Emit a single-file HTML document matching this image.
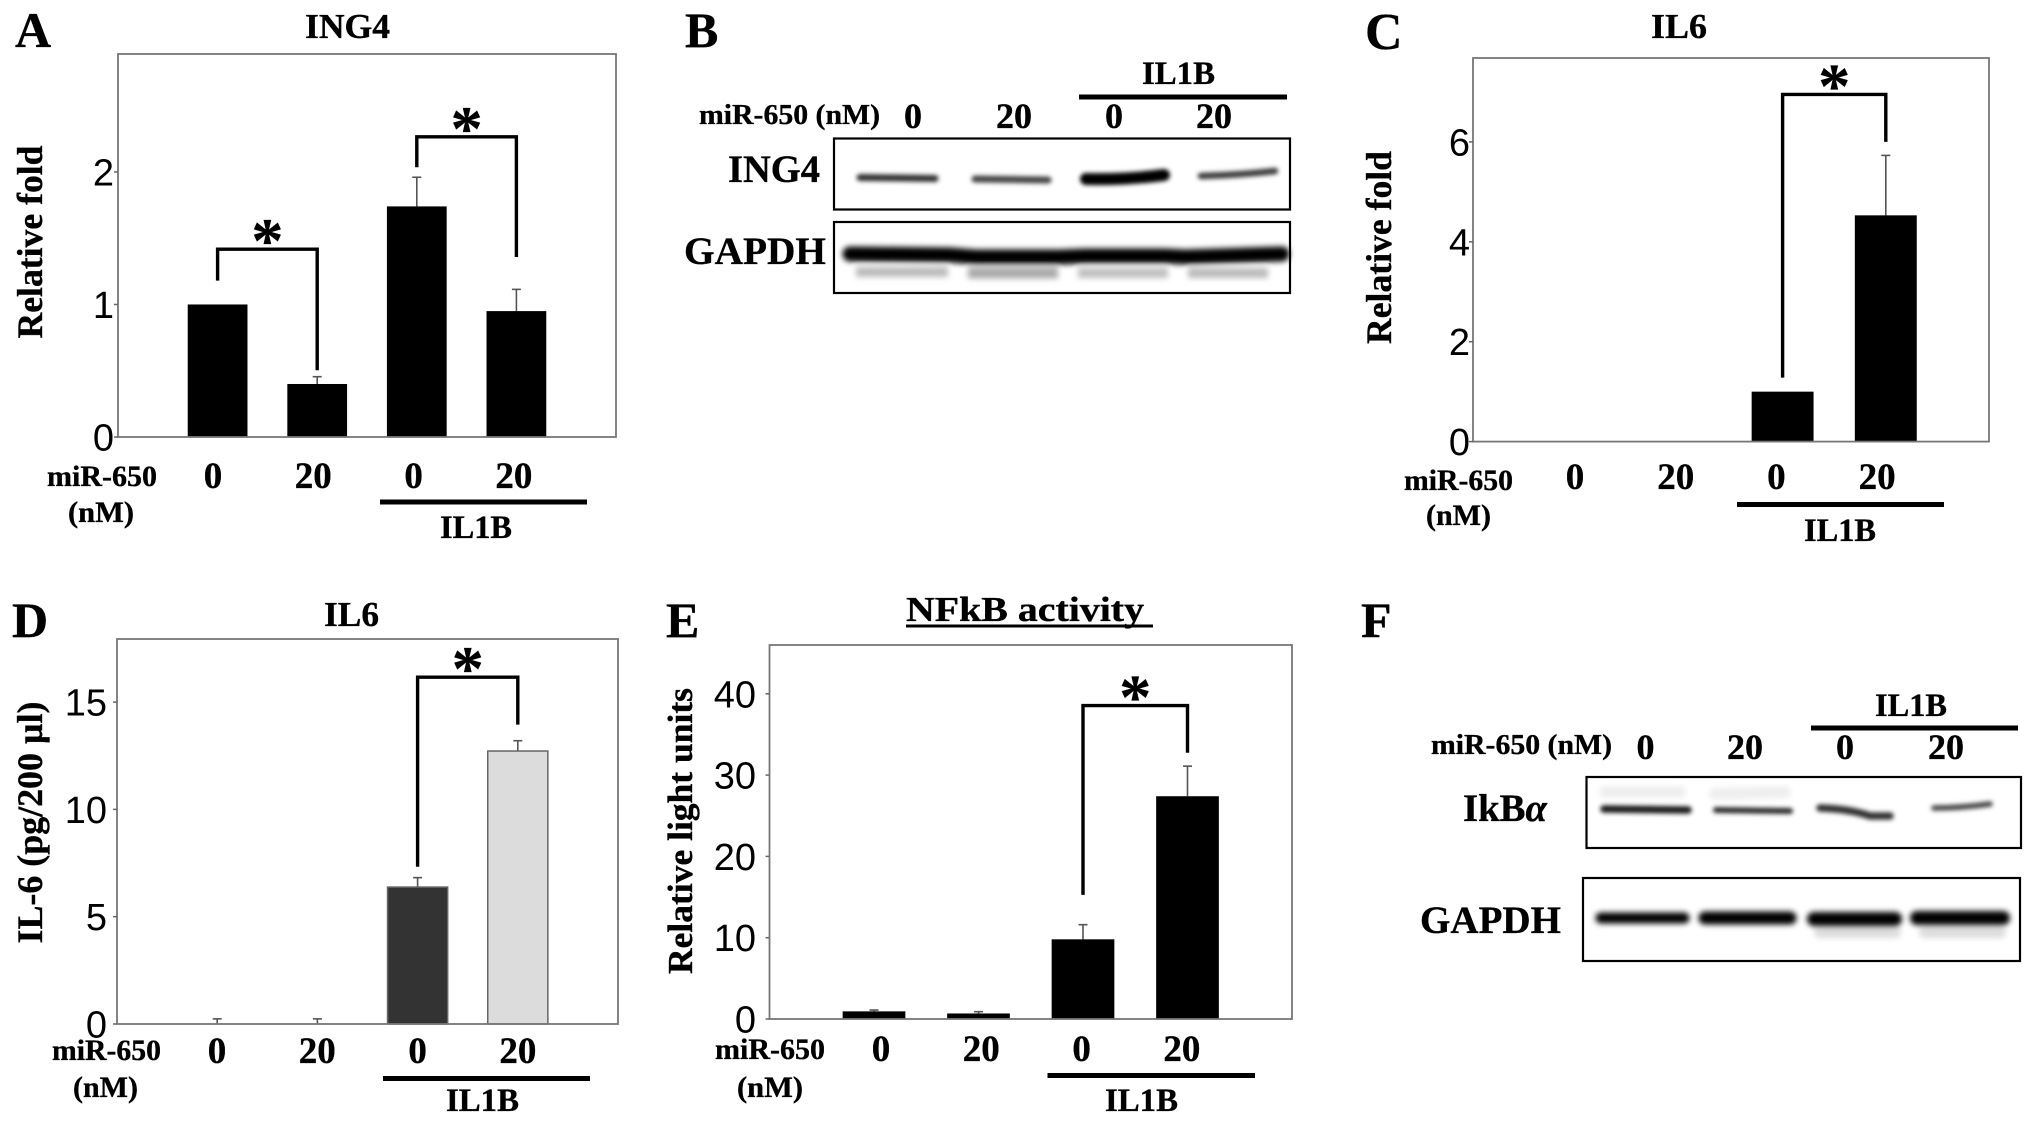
<!DOCTYPE html>
<html lang="en">
<head>
<meta charset="utf-8">
<title>miR-650 figure panels A-F</title>
<style>
html,body{margin:0;padding:0;background:#fff;}
svg{display:block;}
text{font-family:"Liberation Serif","Noto Serif CJK SC",serif;font-weight:bold;fill:#000;stroke:#000;stroke-width:0.35px;}
.num{font-family:"Liberation Sans",sans-serif;font-weight:normal;stroke:none;}
</style>
</head>
<body>
<svg id="figure" xmlns="http://www.w3.org/2000/svg" width="2031" height="1122" viewBox="0 0 2031 1122">
<defs>
<filter id="b3" filterUnits="userSpaceOnUse" x="0" y="0" width="2031" height="1122"><feGaussianBlur stdDeviation="3"/></filter>
<filter id="b2" filterUnits="userSpaceOnUse" x="0" y="0" width="2031" height="1122"><feGaussianBlur stdDeviation="2.2"/></filter>
</defs>
<rect width="2031" height="1122" fill="#fff"/>

<!-- Panel letters -->
<text x="15" y="47" font-size="50">A</text>
<text x="685" y="47" font-size="50">B</text>
<text x="1365" y="49" font-size="52">C</text>
<text x="12" y="637" font-size="50">D</text>
<text x="666" y="637" font-size="50">E</text>
<text x="1361" y="637" font-size="50">F</text>

<!-- Panel A labels -->
<text x="305" y="38" font-size="35" textLength="85" lengthAdjust="spacingAndGlyphs">ING4</text>
<text transform="translate(42,242) rotate(-90)" text-anchor="middle" font-size="36" textLength="193" lengthAdjust="spacingAndGlyphs">Relative fold</text>
<text x="47" y="486" font-size="30" textLength="110" lengthAdjust="spacingAndGlyphs">miR-650</text>
<text x="68" y="522" font-size="30" textLength="66" lengthAdjust="spacingAndGlyphs">(nM)</text>
<rect x="380" y="499.5" width="207" height="5"/>
<text x="440" y="538" font-size="33" textLength="72" lengthAdjust="spacingAndGlyphs">IL1B</text>

<!-- Panel C labels -->
<text x="1651" y="38" font-size="35" textLength="56" lengthAdjust="spacingAndGlyphs">IL6</text>
<text transform="translate(1391,247.5) rotate(-90)" text-anchor="middle" font-size="36" textLength="193" lengthAdjust="spacingAndGlyphs">Relative fold</text>
<text x="1404" y="490" font-size="30" textLength="109" lengthAdjust="spacingAndGlyphs">miR-650</text>
<text x="1426" y="525" font-size="30" textLength="65" lengthAdjust="spacingAndGlyphs">(nM)</text>
<rect x="1737" y="502" width="207" height="5"/>
<text x="1804" y="541" font-size="33" textLength="72" lengthAdjust="spacingAndGlyphs">IL1B</text>

<!-- Panel D labels -->
<text x="324" y="626" font-size="35" textLength="55" lengthAdjust="spacingAndGlyphs">IL6</text>
<text transform="translate(42,822.5) rotate(-90)" text-anchor="middle" font-size="36" textLength="242" lengthAdjust="spacingAndGlyphs">IL-6 (pg/200 µl)</text>
<text x="52" y="1060" font-size="30" textLength="109" lengthAdjust="spacingAndGlyphs">miR-650</text>
<text x="73" y="1097" font-size="30" textLength="65" lengthAdjust="spacingAndGlyphs">(nM)</text>
<rect x="383" y="1076" width="207" height="5"/>
<text x="446" y="1111" font-size="33" textLength="73" lengthAdjust="spacingAndGlyphs">IL1B</text>

<!-- Panel E labels -->
<text x="906" y="621" font-size="35" textLength="238" lengthAdjust="spacingAndGlyphs">NFkB activity</text>
<rect x="906" y="624.5" width="247" height="3"/>
<text transform="translate(692,831) rotate(-90)" text-anchor="middle" font-size="35" textLength="286" lengthAdjust="spacingAndGlyphs">Relative light units</text>
<text x="715" y="1059" font-size="30" textLength="110" lengthAdjust="spacingAndGlyphs">miR-650</text>
<text x="737" y="1097" font-size="30" textLength="66" lengthAdjust="spacingAndGlyphs">(nM)</text>
<rect x="1047.5" y="1073" width="207.5" height="5"/>
<text x="1105" y="1111" font-size="33" textLength="73" lengthAdjust="spacingAndGlyphs">IL1B</text>

<!-- Panel B: western blot -->
<text x="1142" y="84" font-size="33" textLength="73" lengthAdjust="spacingAndGlyphs">IL1B</text>
<rect x="1079" y="94.5" width="208" height="5"/>
<text x="699" y="124" font-size="29" textLength="181" lengthAdjust="spacingAndGlyphs">miR-650 (nM)</text>
<text x="913" y="128" font-size="36" text-anchor="middle">0</text>
<text x="1014" y="128" font-size="36" text-anchor="middle">20</text>
<text x="1114" y="128" font-size="36" text-anchor="middle">0</text>
<text x="1214" y="128" font-size="36" text-anchor="middle">20</text>
<text x="728" y="182" font-size="39" textLength="92" lengthAdjust="spacingAndGlyphs">ING4</text>
<text x="684" y="264" font-size="39" textLength="142" lengthAdjust="spacingAndGlyphs">GAPDH</text>
<g fill="none" stroke-linecap="round" filter="url(#b2)">
<path d="M860 177.5 L935 178.5" stroke="#333" stroke-width="7"/>
<path d="M975 179 L1048 180" stroke="#444" stroke-width="7"/>
<path d="M1086 179 Q1125 180 1164 175" stroke="#000" stroke-width="12"/>
<path d="M1201 176 Q1240 175 1275 171" stroke="#3a3a3a" stroke-width="6.5"/>
</g>
<g fill="none" filter="url(#b3)">
<path d="M856 272 L948 272" stroke="#bbb" stroke-width="10"/>
<path d="M968 273 L1058 273" stroke="#aaa" stroke-width="11"/>
<path d="M1078 273 L1168 273" stroke="#c0c0c0" stroke-width="10"/>
<path d="M1188 273 L1268 273" stroke="#bbb" stroke-width="10"/>
<path d="M850 254 L950 255 L975 257 L1060 257 L1085 256 L1165 256 L1185 257 L1282 254" stroke="#000" stroke-width="15" stroke-linecap="round"/>
</g>
<rect x="834" y="138.5" width="456" height="71" fill="none" stroke="#000" stroke-width="2.2"/>
<rect x="834" y="222" width="456" height="71" fill="none" stroke="#000" stroke-width="2.2"/>

<!-- Panel F: western blot -->
<text x="1875" y="716" font-size="33" textLength="72" lengthAdjust="spacingAndGlyphs">IL1B</text>
<rect x="1811" y="725.5" width="207" height="5"/>
<text x="1431" y="754" font-size="29" textLength="181" lengthAdjust="spacingAndGlyphs">miR-650 (nM)</text>
<text x="1645.5" y="759" font-size="36" text-anchor="middle">0</text>
<text x="1745" y="759" font-size="36" text-anchor="middle">20</text>
<text x="1845" y="759" font-size="36" text-anchor="middle">0</text>
<text x="1946" y="759" font-size="36" text-anchor="middle">20</text>
<text x="1463" y="821" font-size="39" textLength="84" lengthAdjust="spacingAndGlyphs">IkB<tspan font-style="italic">α</tspan></text>
<text x="1420" y="933" font-size="39" textLength="141" lengthAdjust="spacingAndGlyphs">GAPDH</text>
<g fill="none" stroke-linecap="round">
<g filter="url(#b3)">
<path d="M1605 792 L1680 792" stroke="#eee" stroke-width="12"/>
<path d="M1715 794 L1785 792" stroke="#eee" stroke-width="12"/>
</g>
<g filter="url(#b2)">
<path d="M1604 809 L1688 810" stroke="#1c1c1c" stroke-width="7.5"/>
<path d="M1716 810 L1790 811" stroke="#2c2c2c" stroke-width="6"/>
<path d="M1820 808 Q1850 809 1870 816 L1890 816" stroke="#333" stroke-width="7.5"/>
<path d="M1934 808 Q1960 808 1990 804" stroke="#444" stroke-width="5.5"/>
</g>
</g>
<g fill="none" stroke-linecap="round">
<g filter="url(#b3)">
<path d="M1820 932 L1895 932" stroke="#ddd" stroke-width="12"/>
<path d="M1925 932 L2000 932" stroke="#ddd" stroke-width="12"/>
</g>
<g filter="url(#b3)">
<path d="M1601 918 L1684 918" stroke="#000" stroke-width="11"/>
<path d="M1705 918 L1790 918" stroke="#000" stroke-width="13"/>
<path d="M1814 919 L1895 919" stroke="#000" stroke-width="14"/>
<path d="M1917 918 L2003 918" stroke="#000" stroke-width="14"/>
</g>
</g>
<rect x="1586.5" y="777" width="434.5" height="71" fill="none" stroke="#000" stroke-width="2.2"/>
<rect x="1583" y="878" width="437" height="83" fill="none" stroke="#000" stroke-width="2.2"/>

<g id="charts"></g>
</svg>

<script>
// Panel A: ING4 relative fold
const aCategories = ['0', '20', '0', '20'];
const aValues = [1, 0.40, 1.74, 0.95];
const aErrors = [0, 0.055, 0.22, 0.164];
const aTicks = [0, 1, 2];
const aBracketCats = [[0, 1], [2, 3]];
const aBracketLevels = [[1.18, 1.417, 0.504], [2.035, 2.265, 1.358]];

// Panel C: IL6 relative fold
const cCategories = ['0', '20', '0', '20'];
const cValues = [0, 0, 1.0, 4.53];
const cErrors = [0, 0, 0, 1.2];
const cTicks = [0, 2, 4, 6];
const cBracketCats = [[2, 3]];
const cBracketLevels = [[1.28, 6.95, 6.0]];

// Panel D: IL-6 pg/200 ul
const dCategories = ['0', '20', '0', '20'];
const dValues = [0, 0, 6.38, 12.72];
const dErrors = [0.24, 0.24, 0.44, 0.48];
const dTicks = [0, 5, 10, 15];
const dBracketCats = [[2, 3]];
const dBracketLevels = [[7.33, 16.16, 13.95]];

// Panel E: NFkB activity
const eCategories = ['0', '20', '0', '20'];
const eValues = [0.94, 0.68, 9.8, 27.4];
const eErrors = [0.16, 0.22, 1.8, 3.7];
const eTicks = [0, 10, 20, 30, 40];
const eBracketCats = [[2, 3]];
const eBracketLevels = [[15.27, 38.55, 32.75]];

const SVGNS = 'http://www.w3.org/2000/svg';
const root = document.getElementById('charts');

function make(tag, attrs, parent) {
  const el = document.createElementNS(SVGNS, tag);
  for (const k in attrs) el.setAttribute(k, attrs[k]);
  parent.appendChild(el);
  return el;
}

function drawPanel(id, box, domainMax, data, opts) {
  const g = make('g', {}, root);
  
  

  const yScale = v => box.bottom - (v / domainMax) * (box.bottom - box.top);
  const slot = (box.right - box.left) / 5;
  const xScale = i => box.left + (i + 1) * slot;
  const barW = slot * 0.6;

  // error bars
  data.values.forEach((v, i) => {
    if (!data.errors[i]) return;
    const x = xScale(i);
    const top = yScale(v + data.errors[i]);
    const stem = make('line', {x1: x, x2: x, y1: top, y2: yScale(v), stroke: '#555', 'stroke-width': 1.6}, g);
    
    
    const cap = make('line', {x1: x - 4.5, x2: x + 4.5, y1: top, y2: top, stroke: '#555', 'stroke-width': 1.6}, g);
    
    
  });

  // bars
  data.values.forEach((v, i) => {
    if (v <= 0) return;
    const y = yScale(v);
    const fill = opts.colors ? opts.colors[i] : '#000';
    const bar = make('rect', {x: xScale(i) - barW / 2, y: y, width: barW, height: box.bottom - y, fill: fill}, g);
    if (fill !== '#000') { bar.setAttribute('stroke', '#666'); bar.setAttribute('stroke-width', '1.5'); }
    
    
  });

  // frame
  const frame = make('rect', {x: box.left, y: box.top, width: box.right - box.left, height: box.bottom - box.top, fill: 'none', stroke: '#777', 'stroke-width': 1.8}, g);
  
  

  // y ticks
  data.ticks.forEach(t => {
    const y = yScale(t);
    const tick = make('line', {x1: box.left - 4, x2: box.left, y1: y, y2: y, stroke: '#666', 'stroke-width': 1.5}, g);
    
    
    const label = make('text', {x: opts.tickRight, y: y + 13.5, 'text-anchor': 'end', 'font-size': 38, class: 'num'}, g);
    label.textContent = String(t);
    
    
  });

  // x category labels
  data.categories.forEach((c, i) => {
    const label = make('text', {x: opts.labelStart + i * opts.labelStep, y: opts.labelBaseline, 'text-anchor': 'middle', 'font-size': 37}, g);
    label.textContent = c;
    
    
  });

  // significance brackets
  data.bracketCats.forEach((pair, i) => {
    const lv = data.bracketLevels[i];
    const x1 = xScale(pair[0]) + opts.bracketDx;
    const x2 = xScale(pair[1]) + opts.bracketDx;
    const yTop = yScale(lv[1]);
    const path = make('path', {d: 'M' + x1 + ' ' + yScale(lv[0]) + ' V' + yTop + ' H' + x2 + ' V' + yScale(lv[2]), fill: 'none', stroke: '#000', 'stroke-width': 3.4}, g);
    
    
    const star = make('text', {x: (x1 + x2) / 2, y: yTop - 17 + 30, 'text-anchor': 'middle', 'font-size': 64, 'stroke-width': 1}, g);
    star.textContent = '*';
    
    
  });
}

drawPanel('a', {left: 118, right: 616, top: 54, bottom: 437}, 2.89,
  {categories: aCategories, values: aValues, errors: aErrors, ticks: aTicks, bracketCats: aBracketCats, bracketLevels: aBracketLevels},
  {tickRight: 114, labelStart: 213, labelStep: 100.3, labelBaseline: 488, bracketDx: 0});

drawPanel('c', {left: 1473, right: 1989, top: 58, bottom: 441.6}, 7.68,
  {categories: cCategories, values: cValues, errors: cErrors, ticks: cTicks, bracketCats: cBracketCats, bracketLevels: cBracketLevels},
  {tickRight: 1470, labelStart: 1575, labelStep: 100.7, labelBaseline: 489, bracketDx: 0});

drawPanel('d', {left: 117, right: 618, top: 639, bottom: 1024}, 17.94,
  {categories: dCategories, values: dValues, errors: dErrors, ticks: dTicks, bracketCats: dBracketCats, bracketLevels: dBracketLevels},
  {tickRight: 107, labelStart: 217, labelStep: 100.3, labelBaseline: 1063, bracketDx: 0, colors: ['#000', '#000', '#333', '#dcdcdc']});

drawPanel('e', {left: 769.5, right: 1292, top: 645, bottom: 1019}, 46,
  {categories: eCategories, values: eValues, errors: eErrors, ticks: eTicks, bracketCats: eBracketCats, bracketLevels: eBracketLevels},
  {tickRight: 756, labelStart: 881, labelStep: 100.3, labelBaseline: 1061, bracketDx: 0});
</script>
</body>
</html>
